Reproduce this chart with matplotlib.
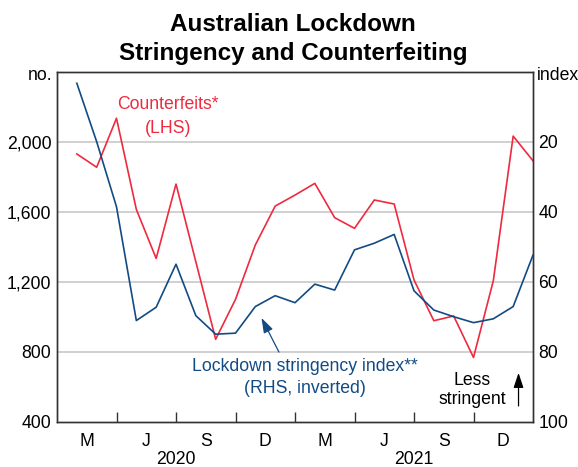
import matplotlib
matplotlib.use('Agg')
import matplotlib.pyplot as plt
import numpy as np

# ====== data (monthly, Jan 2020 - Dec 2021) ======
months = np.arange(1, 25)
counterfeits = [1930, 1854, 2134, 1613, 1333, 1758, 1314, 871, 1099, 1410, 1632, 1695,
                1762, 1566, 1505, 1667, 1644, 1210, 977, 1004, 767, 1206, 2032, 1891]
stringency = [3.3, 20.0, 38.6, 71.1, 67.3, 55.0, 69.7, 75.0, 74.7, 67.1, 64.0, 66.0,
              60.7, 62.4, 50.9, 49.0, 46.5, 62.6, 68.1, 70.0, 71.7, 70.6, 67.1, 52.4]
quarter_labels = ['M', 'J', 'S', 'D', 'M', 'J', 'S', 'D']
years = ['2020', '2021']
left_ticks = [400, 800, 1200, 1600, 2000]
right_ticks = [20, 40, 60, 80, 100]
# ================================================

red = '#EE2A3F'
blue = '#124B84'
fs = 12.7

plt.rcParams['font.family'] = ['Liberation Sans', 'DejaVu Sans']

fig = plt.figure(figsize=(5.78, 4.67), dpi=100)
W, H = 578, 467
ax = fig.add_axes([57 / W, 1 - 421.7 / H, 476 / W, 350 / H])
ax2 = ax.twinx()

# gridlines
for v in left_ticks[1:]:
    ax.axhline(v, color='#C4C4C4', lw=1.1, zorder=0)

ax.plot(months, counterfeits, color=red, lw=1.2, zorder=3)
ax2.plot(months, stringency, color=blue, lw=1.2, zorder=3)

ax.set_xlim(0, 24)
ax.set_ylim(400, 2400)
ax2.set_ylim(100, 0)

ax.set_yticks(left_ticks)
ax.set_yticklabels([f'{v:,}' for v in left_ticks], fontsize=fs)
ax2.set_yticks(right_ticks)
ax2.set_yticklabels([str(v) for v in right_ticks], fontsize=fs)
ax.tick_params(axis='y', length=0, pad=4)
ax2.tick_params(axis='y', length=0, pad=4)

# quarter boundary ticks and labels between them
ax.set_xticks(np.arange(3, 24, 3))
ax.set_xticklabels([])
ax.tick_params(axis='x', which='major', direction='in', length=7, width=1, color='#333333')
ax.set_xticks(np.arange(1.5, 24, 3), minor=True)
ax.set_xticklabels(quarter_labels, minor=True, fontsize=fs)
ax.tick_params(axis='x', which='minor', length=0, pad=8)
for i, yr in enumerate(years):
    ax.text(6 + 12 * i, -0.108, yr, transform=ax.get_xaxis_transform(),
            ha='center', va='center', fontsize=fs)

for a in (ax, ax2):
    for s in a.spines.values():
        s.set_color('#333333')
        s.set_linewidth(1)

fig.text(52 / W, 1 - 76 / H, 'no.', ha='right', va='center', fontsize=fs)
fig.text(537 / W, 1 - 76 / H, 'index', ha='left', va='center', fontsize=fs)

# title
fig.text(293 / W, 1 - 31 / H, 'Australian Lockdown', ha='center', va='baseline',
         fontsize=17.5, fontweight='bold')
fig.text(293 / W, 1 - 60 / H, 'Stringency and Counterfeiting', ha='center', va='baseline',
         fontsize=17.5, fontweight='bold')

# series labels
ax.text(5.6, 2215, 'Counterfeits*', color=red, ha='center', va='center', fontsize=fs)
ax.text(5.6, 2073, '(LHS)', color=red, ha='center', va='center', fontsize=fs)
ax.text(12.5, 713, 'Lockdown stringency index**', color=blue, ha='center', va='center', fontsize=fs)
ax.text(12.5, 592, '(RHS, inverted)', color=blue, ha='center', va='center', fontsize=fs)
ax.annotate('', xy=(10.31, 993), xytext=(11.19, 798),
            arrowprops=dict(arrowstyle='-|>,head_length=0.9,head_width=0.3',
                            color=blue, lw=0.9, shrinkA=0, shrinkB=0))

ax.text(20.93, 638, 'Less', ha='center', va='center', fontsize=fs)
ax.text(20.93, 524, 'stringent', ha='center', va='center', fontsize=fs)
ax.annotate('', xy=(23.27, 679), xytext=(23.27, 490),
            arrowprops=dict(arrowstyle='-|>,head_length=0.9,head_width=0.3',
                            color='black', lw=0.9, shrinkA=0, shrinkB=0))

fig.savefig('out.png', dpi=100)
